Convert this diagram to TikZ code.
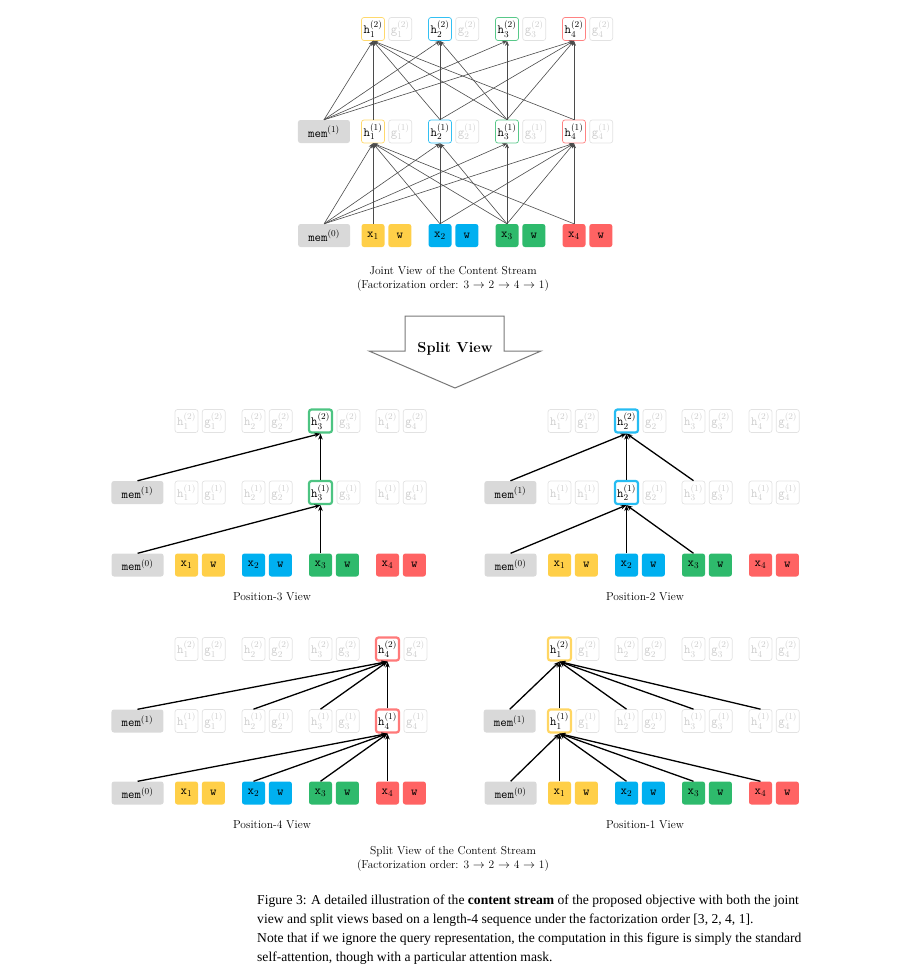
\documentclass[tikz,border=0pt]{standalone}
\usepackage{fontspec}
\newfontfamily\capfont{Liberation Serif}
\usetikzlibrary{positioning,arrows.meta}
\definecolor{TokYellow}{RGB}{255,207,72}
\definecolor{TokBlue}{RGB}{0,176,240}
\definecolor{TokGreen}{RGB}{46,186,108}
\definecolor{TokRed}{RGB}{255,99,99}
\definecolor{MemGray}{RGB}{217,217,217}
\definecolor{FadeLine}{RGB}{226,226,226}
\definecolor{FadeText}{RGB}{205,205,205}
\definecolor{LinkGray}{RGB}{75,75,75}
\definecolor{ArrowGray}{RGB}{120,120,120}
\tikzset{
  cell/.style={rounded corners=2.5pt,minimum width=23pt,minimum height=23pt,
    inner sep=0pt,font=\fontsize{12.5}{14}\selectfont\ttfamily},
  membox/.style={cell,fill=MemGray,minimum width=52pt},
  tokbox/.style={cell,fill=#1},
  hbox/.style={cell,draw=#1!80,fill=white,line width=0.7pt},
  hact/.style={cell,draw=#1!85,fill=white,line width=2.2pt},
  fadebox/.style={cell,draw=FadeLine,text=FadeText,line width=0.7pt},
  link/.style={-{Stealth[length=5pt,width=4pt]},draw=LinkGray,line width=0.6pt},
  boldlink/.style={-{Stealth[length=6pt,width=4.5pt]},draw=black,line width=1.3pt},
  viewcap/.style={font=\fontsize{11.5}{14}\selectfont,align=center}
}

\begin{document}
\begin{tikzpicture}[x=1pt,y=-1pt]
  \useasboundingbox (0,0) rectangle (908,975);

  % panels: name / first column / rows (layer 2, layer 1, input) / position shown (0 = joint)
  \foreach \pn/\px/\ya/\yb/\yc/\pos in {J/373/29/131.5/235.5/0,A/186.5/421/492.5/565/3,
      B/559.5/421/492.5/565/2,C/186.5/649/721/793/4,D/559.5/649/721/793/1}{
    \foreach \i/\col in {1/TokYellow,2/TokBlue,3/TokGreen,4/TokRed}{
      \pgfmathsetmacro\cx{\px+67*(\i-1)}
      \ifnum\pos=0 \tikzset{hsty/.style={hbox=\col}}%
      \else\ifnum\pos=\i \tikzset{hsty/.style={hact=\col}}%
      \else \tikzset{hsty/.style={fadebox}}\fi\fi
      \def\gl{g}\ifnum\pos=2 \ifnum\i=1 \def\gl{h}\fi\fi
      \node[hsty] (\pn-h2-\i) at (\cx,\ya) {h$_{\i}^{(2)}$};
      \node[fadebox,right=3.5pt of \pn-h2-\i] (\pn-g2-\i) {g$_{\i}^{(2)}$};
      \node[hsty] (\pn-h1-\i) at (\cx,\yb) {h$_{\i}^{(1)}$};
      \node[fadebox,right=3.5pt of \pn-h1-\i] (\pn-g1-\i) {\gl$_{\i}^{(1)}$};
      \node[tokbox=\col] (\pn-x-\i) at (\cx,\yc) {x$_{\i}$};
      \node[tokbox=\col,right=3.5pt of \pn-x-\i] (\pn-w-\i) {w};
    }
    \node[membox,left=11pt of \pn-h1-1] (\pn-m1) {mem$^{(1)}$};
    \node[membox,left=11pt of \pn-x-1] (\pn-m0) {mem$^{(0)}$};

    % content stream attention for order 3 -> 2 -> 4 -> 1
    \ifnum\pos=0 \tikzset{lnk/.style={link}}\else\tikzset{lnk/.style={boldlink}}\fi
    \foreach \t/\srcs in {1/{1,2,3,4},2/{2,3},3/{3},4/{2,3,4}}{
      \pgfmathtruncatemacro\doit{(\pos==0)||(\pos==\t)}
      \ifnum\doit=1
        \draw[lnk] (\pn-m0.north) -- (\pn-h1-\t.south);
        \draw[lnk] (\pn-m1.north) -- (\pn-h2-\t.south);
        \foreach \j in \srcs{
          \draw[lnk] (\pn-x-\j.north) -- (\pn-h1-\t.south);
          \draw[lnk] (\pn-h1-\j.north) -- (\pn-h2-\t.south);
        }
      \fi
    }
  }

  \node[viewcap] (jointcap) at (453,279) {Joint View of the Content Stream\\
    (Factorization order: 3 $\rightarrow$ 2 $\rightarrow$ 4 $\rightarrow$ 1)};

  \draw[ArrowGray,line width=1pt,fill=white] (405,316) -- (504,316) -- (504,351) -- (541,351)
    -- (455,388) -- (369,351) -- (405,351) -- cycle;
  \node[font=\fontsize{14.5}{16}\selectfont\bfseries] (split) at (455,349) {Split View};

  \node[viewcap] (cap3) at (272,597) {Position-3 View};
  \node[viewcap] (cap2) at (645,597) {Position-2 View};
  \node[viewcap] (cap4) at (272,825) {Position-4 View};
  \node[viewcap] (cap1) at (645,825) {Position-1 View};

  \node[viewcap] (splitcap) at (453,859) {Split View of the Content Stream\\
    (Factorization order: 3 $\rightarrow$ 2 $\rightarrow$ 4 $\rightarrow$ 1)};

  \node[anchor=north west,align=left,inner sep=0pt,
    font=\capfont\fontsize{13.6}{19}\selectfont] (figcap) at (257,895)
    {Figure 3: A detailed illustration of the \textbf{content stream} of the proposed objective with both the joint\\
     view and split views based on a length-4 sequence under the factorization order [3, 2, 4, 1].\\
     Note that if we ignore the query representation, the computation in this figure is simply the standard\\
     self-attention, though with a particular attention mask.};
\end{tikzpicture}
\end{document}
